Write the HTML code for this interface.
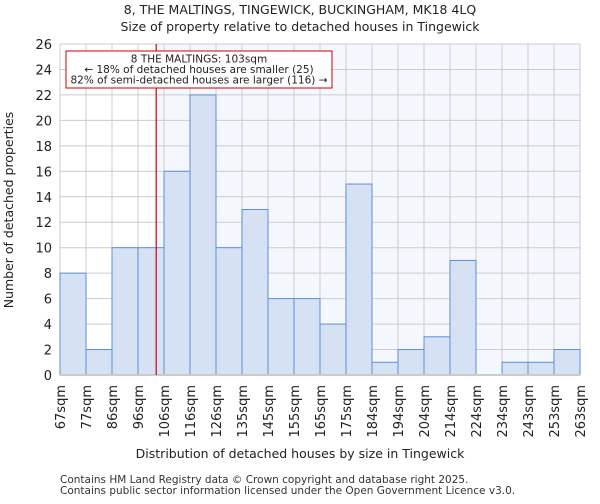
<!DOCTYPE html>
<html><head><meta charset="utf-8"><style>
body{margin:0;background:#fff;font-family:"DejaVu Sans","Liberation Sans",sans-serif;}
</style></head><body>
<svg id="c" width="600" height="500" xmlns="http://www.w3.org/2000/svg" font-family="DejaVu Sans, Liberation Sans, sans-serif">
<text x="300" y="14" text-anchor="middle" font-size="12.5" fill="#222">8, THE MALTINGS, TINGEWICK, BUCKINGHAM, MK18 4LQ</text>
<text x="300" y="31" text-anchor="middle" font-size="12.5" fill="#222">Size of property relative to detached houses in Tingewick</text>
<g id="plot"></g>
<text x="300" y="458" text-anchor="middle" font-size="12.5" fill="#222">Distribution of detached houses by size in Tingewick</text>
<text transform="translate(13,210) rotate(-90)" text-anchor="middle" font-size="12.5" fill="#222">Number of detached properties</text>
<text x="60" y="483" font-size="10.5" fill="#333">Contains HM Land Registry data © Crown copyright and database right 2025.</text>
<text x="60" y="494" font-size="10.5" fill="#333">Contains public sector information licensed under the Open Government Licence v3.0.</text>
</svg>
<script>
const binLabels=["67sqm","77sqm","86sqm","96sqm","106sqm","116sqm","126sqm","135sqm","145sqm","155sqm","165sqm","175sqm","184sqm","194sqm","204sqm","214sqm","224sqm","234sqm","243sqm","253sqm","263sqm"];
const counts=[8,2,10,10,16,22,10,13,6,6,4,15,1,2,3,9,0,1,1,2];
const yTicks=[0,2,4,6,8,10,12,14,16,18,20,22,24,26];
const markerBin=3.7;
const L=60,R=580,T=44,B=375,yMax=26;
const nb=counts.length,bw=(R-L)/nb;
const xs=i=>L+i*bw, ys=v=>B-(v/yMax)*(B-T);
const ns="http://www.w3.org/2000/svg",g=document.getElementById('plot');
function mk(t,a){const e=document.createElementNS(ns,t);for(const k in a)e.setAttribute(k,a[k]);g.appendChild(e);return e;}
const mx=xs(markerBin);
let e=mk('rect',{x:L,y:T,width:mx-L,height:B-T,fill:'#fff'});


e=mk('rect',{x:mx,y:T,width:R-mx,height:B-T,fill:'#f4f7fd'});


yTicks.forEach(v=>{
 let l=mk('line',{x1:L,x2:R,y1:ys(v),y2:ys(v),stroke:'#ccc','stroke-width':1});
 
 
 let t=mk('text',{x:L-8,y:ys(v)+5,'text-anchor':'end','font-size':13,fill:'#222'});t.textContent=v;
 
 
});
binLabels.forEach((s,i)=>{
 let l=mk('line',{x1:xs(i),x2:xs(i),y1:T,y2:B,stroke:'#ccc','stroke-width':1});
 
 
 let t=mk('text',{transform:`translate(${xs(i)+5},385) rotate(-90)`,'text-anchor':'end','font-size':13,fill:'#222'});t.textContent=s;
 
 
});
counts.forEach((v,i)=>{
 if(v<=0)return;
 let r=mk('rect',{x:xs(i),y:ys(v),width:bw,height:B-ys(v),fill:'#d6e2f3',stroke:'#5b8fd9','stroke-width':1});
 
 
});
e=mk('line',{x1:L,x2:R,y1:B,y2:B,stroke:'#ccc','stroke-width':2});


e=mk('line',{x1:mx,x2:mx,y1:T,y2:B,stroke:'#cc0000','stroke-width':1.2});


e=mk('rect',{x:66,y:51,width:266,height:37,fill:'#fff',stroke:'#cc0000','stroke-width':1});


["8 THE MALTINGS: 103sqm","← 18% of detached houses are smaller (25)","82% of semi-detached houses are larger (116) →"].forEach((s,i)=>{
 let t=mk('text',{x:199,y:62.5+i*10.5,'text-anchor':'middle','font-size':10.5,fill:'#222'});t.textContent=s;
 
 
});
</script>
</body></html>
